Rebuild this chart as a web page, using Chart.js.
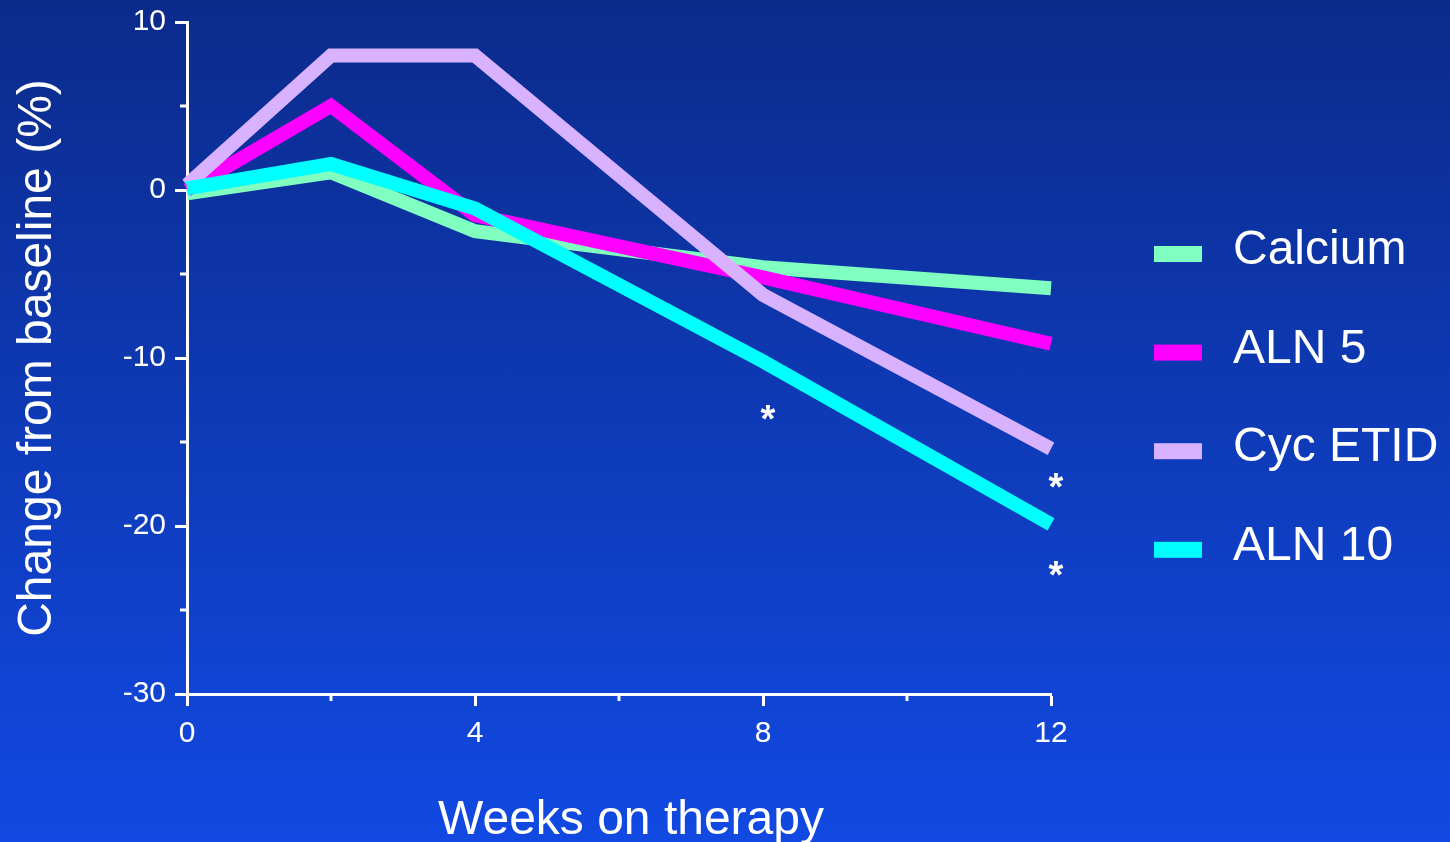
<!DOCTYPE html>
<html>
<head>
<meta charset="utf-8">
<title>Change from baseline</title>
<script src="https://cdn.jsdelivr.net/npm/chart.js@4.4.0/dist/chart.umd.min.js"></script>
<style>
    html, body { margin: 0; padding: 0; }
    body { width: 1450px; height: 842px; overflow: hidden;
           background: linear-gradient(to bottom, #0b2b8b, #1149e2); }
    #wrap { position: relative; width: 1450px; height: 842px; }
</style>
</head>
<body>
<div id="wrap"><canvas id="chart"></canvas></div>
<script>
// data
const weeks = [0, 2, 4, 8, 12];
const calcium = [-0.2, 1.05, -2.45, -4.6, -5.85];
const aln5 = [0, 5.0, -1.5, -5.2, -9.15];
const cycEtid = [0.3, 8.0, 8.0, -6.25, -15.4];
const aln10 = [0.1, 1.55, -1.1, -10.2, -19.9];

// significance markers
const starWeeks = [8, 12, 12];
const starValues = [-13.2, -17.3, -22.5];

// axis ticks, '' = unlabelled minor tick
const xTickValues = [0, 2, 4, 6, 8, 10, 12];
const xTickLabels = ['0', '', '4', '', '8', '', '12'];
const yTickValues = [-30, -25, -20, -15, -10, -5, 0, 5, 10];
const yTickLabels = ['-30', '', '-20', '', '-10', '', '0', '', '10'];

const FONT = "'Liberation Sans', Arial, sans-serif";

function pts(vals) {
    return weeks.map((w, i) => ({x: w, y: vals[i]}));
}

// short ticks for the unlabelled positions, asterisks, legend
const extras = {
    id: 'extras',
    afterDraw(chart) {
        const ctx = chart.ctx;
        const xs = chart.scales.x, ys = chart.scales.y;
        const area = chart.chartArea;
        ctx.save();
        ctx.strokeStyle = '#fff';
        ctx.lineWidth = 3;
        ctx.beginPath();
        xTickValues.forEach((v, i) => {
            if (xTickLabels[i]) return;
            const px = Math.round(xs.getPixelForValue(v));
            ctx.moveTo(px, area.bottom);
            ctx.lineTo(px, area.bottom + 7);
        });
        yTickValues.forEach((v, i) => {
            if (yTickLabels[i]) return;
            const py = Math.round(ys.getPixelForValue(v));
            ctx.moveTo(area.left - 7, py);
            ctx.lineTo(area.left, py);
        });
        ctx.stroke();

        ctx.fillStyle = '#fff';
        ctx.font = 'bold 38px ' + FONT;
        ctx.textAlign = 'center';
        ctx.textBaseline = 'alphabetic';
        starWeeks.forEach((w, i) => {
            const px = xs.getPixelForValue(w) + 5;
            const py = ys.getPixelForValue(starValues[i]) + 0.52 * 38;
            ctx.fillText('*', px, py);
        });

        // legend
        ctx.font = '48px ' + FONT;
        ctx.textAlign = 'left';
        ctx.textBaseline = 'middle';
        chart.data.datasets.forEach((ds, i) => {
            const cy = 254 + i * 98.6;
            ctx.fillStyle = ds.borderColor;
            ctx.fillRect(1154, cy - 8, 48, 16);
            ctx.fillStyle = '#fff';
            ctx.fillText(ds.label, 1233, cy - 3);
        });
        ctx.restore();
    }
};

new Chart(document.getElementById('chart'), {
    type: 'line',
    data: {
        datasets: [
            {label: 'Calcium', data: pts(calcium), borderColor: '#80ffc0', order: 4},
            {label: 'ALN 5', data: pts(aln5), borderColor: '#ff00ff', order: 3},
            {label: 'Cyc ETID', data: pts(cycEtid), borderColor: '#d9b2ff', order: 2},
            {label: 'ALN 10', data: pts(aln10), borderColor: '#00ffff', order: 1}
        ]
    },
    options: {
        responsive: true,
        maintainAspectRatio: false,
        animation: false,
        layout: {padding: {top: 22, right: 399, bottom: 0, left: 0}},
        elements: {
            line: {borderWidth: 14, tension: 0, fill: false, borderCapStyle: 'butt', borderJoinStyle: 'miter'},
            point: {radius: 0, hoverRadius: 0}
        },
        datasets: {line: {clip: false}},
        plugins: {legend: {display: false}, tooltip: {enabled: false}},
        scales: {
            x: {
                type: 'linear', min: 0, max: 12,
                afterBuildTicks: s => { s.ticks = xTickValues.map(v => ({value: v})); },
                afterFit: s => { s.height = 148; s.paddingLeft = 0; s.paddingRight = 0; },
                ticks: {
                    autoSkip: false, maxRotation: 0, color: '#fff', padding: 10,
                    font: {family: FONT, size: 30},
                    callback: (v, i) => xTickLabels[i]
                },
                grid: {
                    drawOnChartArea: false, drawTicks: true, tickLength: 12, tickWidth: 3,
                    tickColor: c => xTickLabels[c.index] ? '#fff' : 'rgba(0,0,0,0)'
                },
                border: {color: '#fff', width: 3},
                title: {
                    display: true, text: '\u2002Weeks on therapy', color: '#fff',
                    font: {family: FONT, size: 48, lineHeight: 1}, padding: {top: 0, bottom: -3}
                }
            },
            y: {
                min: -30, max: 10,
                afterBuildTicks: s => { s.ticks = yTickValues.map(v => ({value: v})); },
                afterFit: s => { s.width = 187; s.paddingTop = 0; s.paddingBottom = 0; },
                ticks: {
                    autoSkip: false, color: '#fff', padding: 9,
                    font: {family: FONT, size: 30},
                    callback: (v, i) => yTickLabels[i]
                },
                grid: {
                    drawOnChartArea: false, drawTicks: true, tickLength: 12, tickWidth: 3,
                    tickColor: c => yTickLabels[c.index] ? '#fff' : 'rgba(0,0,0,0)'
                },
                border: {color: '#fff', width: 3},
                title: {
                    display: true, text: 'Change from baseline (%)', color: '#fff',
                    font: {family: FONT, size: 48, lineHeight: 1}, padding: {top: 14, bottom: 0}
                }
            }
        }
    },
    plugins: [extras]
});
</script>
</body>
</html>
